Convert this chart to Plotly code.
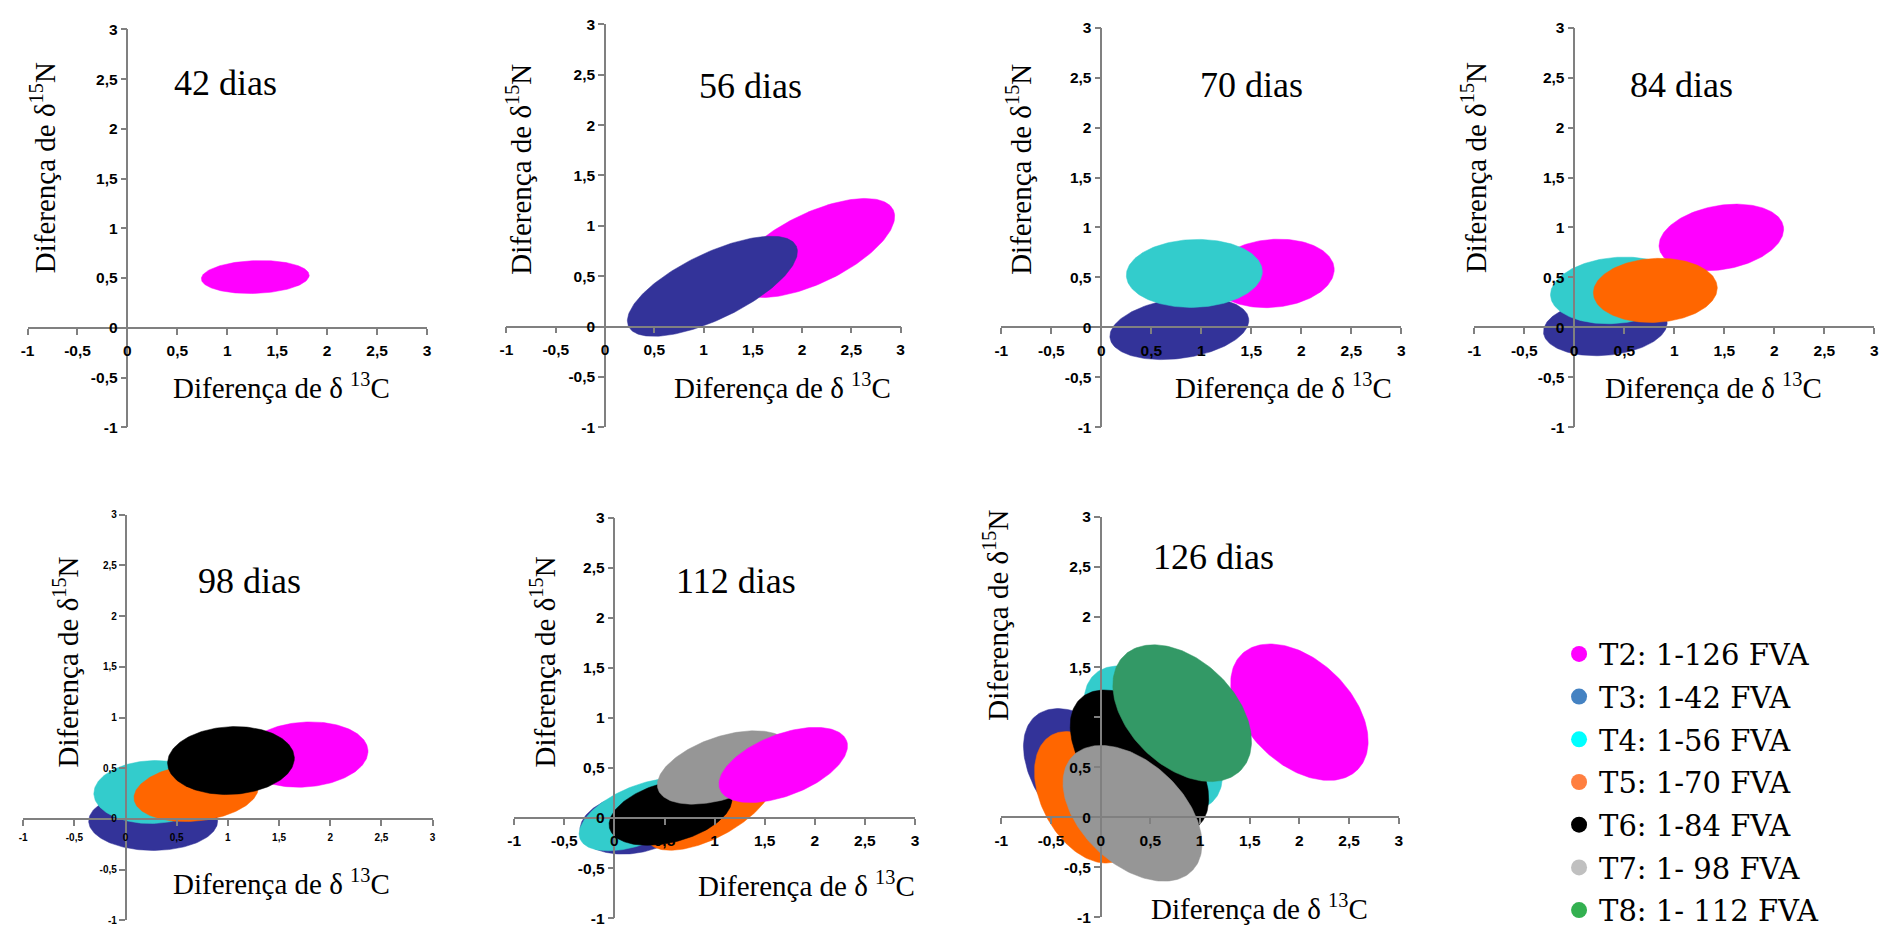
import numpy as np
import plotly.graph_objects as go

W, H = 1885, 936

# ---------------- data ----------------
PANEL_TITLES = ["42 dias", "56 dias", "70 dias", "84 dias", "98 dias", "112 dias", "126 dias"]
TICK_VALS = [-1, -0.5, 0, 0.5, 1, 1.5, 2, 2.5, 3]
TICK_TEXT = ["-1", "-0,5", "0", "0,5", "1", "1,5", "2", "2,5", "3"]

TREATMENTS = ["T2", "T3", "T4", "T5", "T6", "T7", "T8"]
LEGEND_LABELS = ["T2: 1-126 FVA", "T3: 1-42 FVA", "T4: 1-56 FVA", "T5: 1-70 FVA",
                 "T6: 1-84 FVA", "T7: 1- 98 FVA", "T8: 1- 112 FVA"]

# ellipses per panel (draw order): treatment, centre x/y, semi-axes, rotation (deg)
D42_TRT = ["T2"]
D42_CX = [1.28]
D42_CY = [0.51]
D42_RX = [0.54]
D42_RY = [0.165]
D42_ANG = [2]

D56_TRT = ["T2", "T3"]
D56_CX = [2.12, 1.09]
D56_CY = [0.78, 0.40]
D56_RX = [0.89, 0.94]
D56_RY = [0.35, 0.33]
D56_ANG = [25, 25]

D70_TRT = ["T2", "T3", "T4"]
D70_CX = [1.71, 0.78, 0.93]
D70_CY = [0.54, -0.01, 0.54]
D70_RX = [0.62, 0.70, 0.68]
D70_RY = [0.34, 0.30, 0.34]
D70_ANG = [5, 8, 2]

D84_TRT = ["T2", "T3", "T4", "T5"]
D84_CX = [1.47, 0.31, 0.42, 0.81]
D84_CY = [0.90, 0.00, 0.37, 0.37]
D84_RX = [0.63, 0.62, 0.66, 0.62]
D84_RY = [0.32, 0.28, 0.33, 0.32]
D84_ANG = [10, 5, 5, 3]

D98_TRT = ["T2", "T3", "T4", "T5", "T6"]
D98_CX = [1.75, 0.27, 0.27, 0.69, 1.03]
D98_CY = [0.635, -0.02, 0.266, 0.26, 0.576]
D98_RX = [0.62, 0.63, 0.58, 0.61, 0.62]
D98_RY = [0.32, 0.29, 0.31, 0.28, 0.334]
D98_ANG = [4, 0, 2, 6, 3]

D112_TRT = ["T3", "T4", "T5", "T6", "T7", "T2"]
D112_CX = [0.20, 0.26, 0.95, 0.56, 1.09, 1.685]
D112_CY = [-0.05, 0.035, 0.10, 0.06, 0.505, 0.53]
D112_RX = [0.55, 0.65, 0.70, 0.63, 0.69, 0.677]
D112_RY = [0.30, 0.29, 0.30, 0.30, 0.31, 0.307]
D112_ANG = [10, 22, 28, 15, 18.5, 21]

D126_TRT = ["T2", "T3", "T4", "T5", "T6", "T7", "T8"]
D126_CX = [2.00, -0.11, 0.53, -0.15, 0.39, 0.32, 0.82]
D126_CY = [1.05, 0.36, 0.79, 0.20, 0.55, 0.04, 1.04]
D126_RX = [0.82, 0.85, 0.87, 0.71, 0.87, 0.83, 0.82]
D126_RY = [0.52, 0.50, 0.50, 0.44, 0.50, 0.51, 0.53]
D126_ANG = [-44, -50, -47, -61, -47, -43, -43.5]

PANELS = [
    (D42_TRT, D42_CX, D42_CY, D42_RX, D42_RY, D42_ANG),
    (D56_TRT, D56_CX, D56_CY, D56_RX, D56_RY, D56_ANG),
    (D70_TRT, D70_CX, D70_CY, D70_RX, D70_RY, D70_ANG),
    (D84_TRT, D84_CX, D84_CY, D84_RX, D84_RY, D84_ANG),
    (D98_TRT, D98_CX, D98_CY, D98_RX, D98_RY, D98_ANG),
    (D112_TRT, D112_CX, D112_CY, D112_RX, D112_RY, D112_ANG),
    (D126_TRT, D126_CX, D126_CY, D126_RX, D126_RY, D126_ANG),
]

# ---------------- styles / layout ----------------
FILL_COLORS = {"T2": "#ff00ff", "T3": "#333399", "T4": "#33cccc", "T5": "#ff6600",
               "T6": "#000000", "T7": "#969696", "T8": "#339966"}
LEGEND_COLORS = {"T2": "#ff00ff", "T3": "#4482c2", "T4": "#00ffff", "T5": "#ff7f40",
                 "T6": "#000000", "T7": "#c0c0c0", "T8": "#33b050"}

# plot-area boxes in pixels: (left, right, top, bottom)
BOXES = [
    (20.7, 422.7, 20.7, 426.0),
    (502.7, 899.3, 15.7, 426.0),
    (1000.7, 1403.3, 19.0, 426.0),
    (1476.7, 1879.3, 19.0, 426.0),
    (16.3, 428.3, 515.0, 928.3),
    (510.5, 913.8, 518.0, 926.0),
    (1000.7, 1400.7, 517.3, 925.3),
]
TICK_SIZES = [15.5, 15.5, 15.5, 15.5, 10, 15.5, 15.5]
TITLE_POS = [(219.7, 75), (748.3, 78.3), (1252.5, 77.7), (1685, 77.7),
             (243.7, 582.3), (733.8, 582.3), (1214.3, 558.3)]
XTITLE_POS = [(275.8, 384.3), (780.5, 384.3), (1284.7, 384.3), (1717, 384.3),
              (276.2, 889.3), (804.2, 891), (1260.5, 914.3)]
YTITLE_POS = [(35.7, 161.7), (515.7, 163.3), (1019, 163.3), (1475.7, 161.7),
              (59, 665), (539, 665), (995.7, 617.5)]

AXIS_COLOR = "#808080"
SERIF = "Liberation Serif, Times New Roman, serif"


def px(x):
    return x / W


def py(y):
    return 1 - y / H


def ellipse(cx, cy, rx, ry, ang, n=180):
    t = np.linspace(0, 2 * np.pi, n)
    th = np.deg2rad(ang)
    x = cx + rx * np.cos(t) * np.cos(th) - ry * np.sin(t) * np.sin(th)
    y = cy + rx * np.cos(t) * np.sin(th) + ry * np.sin(t) * np.cos(th)
    return x, y


fig = go.Figure()
annotations = []
layout_axes = {}
bold_ticks = ["<b>%s</b>" % s for s in TICK_TEXT]

for i, (panel, box) in enumerate(zip(PANELS, BOXES)):
    k = "" if i == 0 else str(i + 1)
    xa, ya = "x" + k, "y" + k
    trt, cxs, cys, rxs, rys, angs = panel
    for t, cx, cy, rx, ry, an in zip(trt, cxs, cys, rxs, rys, angs):
        ex, ey = ellipse(cx, cy, rx, ry, an)
        fig.add_trace(go.Scatter(
            x=ex, y=ey, xaxis=xa, yaxis=ya, mode="lines", fill="toself",
            fillcolor=FILL_COLORS[t], line=dict(color=FILL_COLORS[t], width=0.5),
            showlegend=False, hoverinfo="skip"))

    left, right, top, bottom = box
    zero_y = top + 0.75 * (bottom - top)
    zero_x = left + 0.25 * (right - left)
    common = dict(range=[-1, 3], tickvals=TICK_VALS, ticktext=bold_ticks,
                  ticks="outside", ticklen=6, tickwidth=1.5, tickcolor=AXIS_COLOR,
                  showline=True, linecolor=AXIS_COLOR, linewidth=1.5,
                  showgrid=False, zeroline=False, fixedrange=True,
                  tickfont=dict(family="Liberation Sans, Arial, sans-serif",
                                size=TICK_SIZES[i], color="black", weight="bold"))
    layout_axes["xaxis" + k] = dict(common, domain=[px(left), px(right)],
                                    anchor="free", position=py(zero_y),
                                    ticklabelstandoff=3)
    layout_axes["yaxis" + k] = dict(common, domain=[py(bottom), py(top)],
                                    anchor="free", position=px(zero_x),
                                    ticklabelstandoff=0)

    tx, ty = TITLE_POS[i]
    annotations.append(dict(text=PANEL_TITLES[i], x=px(tx), y=py(ty), xref="paper", yref="paper",
                            showarrow=False, xanchor="center", yanchor="middle",
                            font=dict(family=SERIF, size=36, color="black")))
    xx, xy = XTITLE_POS[i]
    annotations.append(dict(text="Diferença de δ <sup>13</sup>C", x=px(xx), y=py(xy),
                            xref="paper", yref="paper", showarrow=False,
                            xanchor="center", yanchor="middle",
                            font=dict(family=SERIF, size=29, color="black")))
    yx, yy = YTITLE_POS[i]
    annotations.append(dict(text="Diferença de δ<sup>15</sup>N", x=px(yx), y=py(yy),
                            xref="paper", yref="paper", showarrow=False, textangle=-90,
                            xanchor="center", yanchor="middle",
                            font=dict(family=SERIF, size=29, color="black")))

# legend entries
for t, lab in zip(TREATMENTS, LEGEND_LABELS):
    fig.add_trace(go.Scatter(x=[None], y=[None], mode="markers", name=lab,
                             legendgroup=t,
                             marker=dict(color=LEGEND_COLORS[t], size=16, symbol="circle"),
                             showlegend=True, hoverinfo="skip"))

fig.update_layout(
    width=W, height=H, margin=dict(l=0, r=0, t=0, b=0),
    paper_bgcolor="white", plot_bgcolor="rgba(0,0,0,0)",
    annotations=annotations,
    legend=dict(x=px(1562), y=py(631), xanchor="left", yanchor="top",
                font=dict(family="DejaVu Serif, serif", size=29, color="black"),
                bgcolor="rgba(0,0,0,0)", borderwidth=0,
                traceorder="grouped", tracegroupgap=2),
    **layout_axes,
)

fig.write_html("out.html", config={"displayModeBar": False})
